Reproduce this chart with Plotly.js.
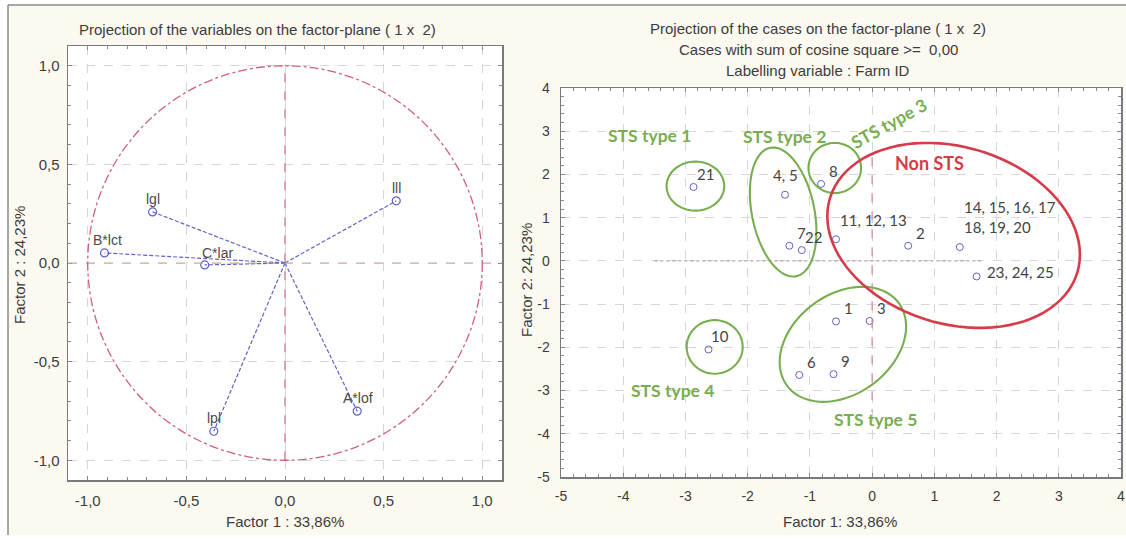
<!DOCTYPE html>
<html><head><meta charset="utf-8">
<script src="https://cdn.plot.ly/plotly-3.0.1.min.js"></script>
<style>html,body{margin:0;padding:0;background:#fff}#chart{width:1126px;height:539px}</style>
</head><body><div id="chart"></div>
<script>
// ---- Left panel: projection of the variables ----
const varNames = ['lll', 'lgl', 'B*lct', 'C*lar', 'lpl', 'A*lof'];
const varF1 = [0.564, -0.671, -0.915, -0.407, -0.361, 0.366];
const varF2 = [0.315, 0.259, 0.051, -0.010, -0.853, -0.751];
const circleRadius = 1;
const leftTicks = [-1, -0.5, 0, 0.5, 1];

// ---- Right panel: projection of the cases ----
const caseLabels = ['21', '4, 5', '8', '7', '22', '11, 12, 13', '2', '14, 15, 16, 17<br>18, 19, 20', '23, 24, 25', '1', '3', '10', '6', '9'];
const caseF1 = [-2.87, -1.40, -0.82, -1.33, -1.13, -0.58, 0.58, 1.41, 1.68, -0.58, -0.04, -2.63, -1.17, -0.62];
const caseF2 = [1.71, 1.53, 1.78, 0.35, 0.25, 0.50, 0.35, 0.32, -0.36, -1.40, -1.39, -2.05, -2.64, -2.62];
const rightTicks = [-5, -4, -3, -2, -1, 0, 1, 2, 3, 4];

// ---- Groups (ellipses) ----
const groupNames = ['STS type 1', 'STS type 2', 'STS type 3', 'STS type 4', 'STS type 5', 'Non STS'];
const groupLabelX = [-3.57, -1.41, 0.27, -3.21, 0.05, 0.93];
const groupLabelY = [2.89, 2.88, 3.19, -3.01, -3.66, 2.26];
const groupCx = [-2.84, -1.43, -0.60, -2.53, -0.47, 1.31];
const groupCy = [1.73, 1.13, 2.15, -1.99, -1.93, 0.59];
const groupRx = [0.463, 0.535, 0.423, 0.45, 1.016, 2.03];
const groupRy = [0.567, 1.493, 0.579, 0.62, 1.331, 2.14];
const groupPhase = [90, 107.5, 90, 90, 72, 102];

// ---- styles ----
const GREEN = '#78ae50', RED = '#d63b49', BLUE = '#6262c8';
const TXT = '#3c3c3c';
const AX = '#7a7a7a';
const ARIAL = 'Liberation Sans, Arial, sans-serif';
const CAL = 'Lato, Open Sans, sans-serif';

const fmt = v => String(v);
const fmt1 = v => v.toFixed(1).replace('.', ',');

// vector segments from origin
const segX = [], segY = [];
varF1.forEach((x, i) => { segX.push(0, x, null); segY.push(0, varF2[i], null); });

const traces = [
  { x: segX, y: segY, xaxis: 'x', yaxis: 'y', mode: 'lines', type: 'scatter',
    line: { color: BLUE, width: 1.2, dash: '4px,2px' }, hoverinfo: 'skip', showlegend: false },
  { x: varF1, y: varF2, xaxis: 'x', yaxis: 'y', mode: 'markers', type: 'scatter',
    marker: { symbol: 'circle-open', size: 8, color: BLUE, line: { width: 1.2 } }, showlegend: false },
  { x: caseF1, y: caseF2, xaxis: 'x2', yaxis: 'y2', mode: 'markers', type: 'scatter',
    marker: { symbol: 'circle-open', size: 7, color: BLUE, line: { width: 1 } }, showlegend: false },
  { x: [null], y: [null], xaxis: 'x3', yaxis: 'y3', type: 'scatter', mode: 'markers', showlegend: false },
  { x: [null], y: [null], xaxis: 'x4', yaxis: 'y4', type: 'scatter', mode: 'markers', showlegend: false }
];

function ellipsePath(cx, cy, rx, ry, phDeg) {
  const ph = phDeg * Math.PI / 180;
  let s = '';
  for (let i = 0; i <= 90; i++) {
    const t = 2 * Math.PI * i / 90;
    const x = cx + rx * Math.cos(t);
    const y = cy + ry * Math.cos(t - ph);
    s += (i ? 'L' : 'M') + x.toFixed(4) + ',' + y.toFixed(4);
  }
  return s + 'Z';
}

const shapes = [
  { type: 'rect', xref: 'paper', yref: 'paper', x0: 0, x1: 8 / 1126, y0: 0, y1: 1, fillcolor: '#ffffff', line: { width: 0 }, layer: 'below' },
  { type: 'rect', xref: 'paper', yref: 'paper', x0: 0, x1: 1, y0: 0, y1: 4 / 539, fillcolor: '#ffffff', line: { width: 0 }, layer: 'below' },
  { type: 'rect', xref: 'paper', yref: 'paper', x0: 0, x1: 1, y0: 1 - 5 / 539, y1: 1, fillcolor: '#ffffff', line: { width: 0 }, layer: 'below' },
  { type: 'line', xref: 'paper', yref: 'paper', x0: 8 / 1126, x1: 1, y0: 1 - 5 / 539, y1: 1 - 5 / 539, line: { color: '#8a8a8a', width: 1.5 } },
  { type: 'line', xref: 'paper', yref: 'paper', x0: 8 / 1126, x1: 8 / 1126, y0: 4 / 539, y1: 1 - 5 / 539, line: { color: '#8a8a8a', width: 1.5 } },
  { type: 'line', xref: 'x', yref: 'y', x0: -1.1, x1: 1.1, y0: 0, y1: 0, line: { color: '#caa898', width: 1.2, dash: 'dash' } },
  { type: 'line', xref: 'x', yref: 'y', x0: 0, x1: 0, y0: -circleRadius, y1: circleRadius, line: { color: '#c8667c', width: 1.2, dash: 'dash' } },
  { type: 'circle', xref: 'x', yref: 'y', x0: -circleRadius, x1: circleRadius, y0: -circleRadius, y1: circleRadius,
    line: { color: '#d0607a', width: 1.3, dash: 'dashdot' } },
  { type: 'line', xref: 'x2', yref: 'y2', x0: -3.5, x1: 1.75, y0: 0, y1: 0, line: { color: '#b8a4a4', width: 1.2, dash: 'dot' } },
  { type: 'line', xref: 'x2', yref: 'y2', x0: 0, x1: 0, y0: 2.4, y1: -3.5, line: { color: '#d08898', width: 1.2, dash: 'dash' } }
];
groupNames.forEach((g, i) => {
  shapes.push({ type: 'path', xref: 'x2', yref: 'y2',
    path: ellipsePath(groupCx[i], groupCy[i], groupRx[i], groupRy[i], groupPhase[i]),
    line: { color: g === 'Non STS' ? RED : GREEN, width: g === 'Non STS' ? 2.6 : 2.1 } });
});

const annotations = [];
const TF = { family: ARIAL, size: 15, color: TXT };
annotations.push({ xref: 'paper', yref: 'paper', x: 257 / 1126, y: 1 - 29 / 539, text: 'Projection of the variables on the factor-plane ( 1 x  2)',
  showarrow: false, font: TF, xanchor: 'center', yanchor: 'middle' });
['Projection of the cases on the factor-plane ( 1 x  2)', 'Cases with sum of cosine square >=  0,00', 'Labelling variable : Farm ID']
  .forEach((t, i) => annotations.push({ xref: 'paper', yref: 'paper', x: 818 / 1126, y: 1 - (28 + 21.5 * i) / 539, text: t,
    showarrow: false, font: TF, xanchor: 'center', yanchor: 'middle' }));
annotations.push({ xref: 'paper', yref: 'paper', x: 285 / 1126, y: 1 - 521 / 539, text: 'Factor 1 : 33,86%', showarrow: false,
  font: TF, xanchor: 'center', yanchor: 'middle' });
annotations.push({ xref: 'paper', yref: 'paper', x: 19 / 1126, y: 1 - 265 / 539, text: 'Factor 2 : 24,23%', showarrow: false, textangle: -90,
  font: TF, xanchor: 'center', yanchor: 'middle' });
annotations.push({ xref: 'paper', yref: 'paper', x: 840 / 1126, y: 1 - 521 / 539, text: 'Factor 1: 33,86%', showarrow: false,
  font: TF, xanchor: 'center', yanchor: 'middle' });
annotations.push({ xref: 'paper', yref: 'paper', x: 526 / 1126, y: 1 - 280 / 539, text: 'Factor 2: 24,23%', showarrow: false, textangle: -90,
  font: TF, xanchor: 'center', yanchor: 'middle' });

const varShift = { 'lll': [0, 13], 'lgl': [0, 13], 'B*lct': [3, 13], 'C*lar': [13, 12], 'lpl': [0, 13], 'A*lof': [1, 13] };
varNames.forEach((n, i) => annotations.push({ xref: 'x', yref: 'y', x: varF1[i], y: varF2[i], text: n, showarrow: false,
  xshift: varShift[n][0], yshift: varShift[n][1], font: { family: ARIAL, size: 14, color: '#4a4a4a' } }));

const caseStyle = {
  '4, 5': { dx: 0, dy: 20, anchor: 'center' },
  '11, 12, 13': { dx: 2, dy: 19, anchor: 'left' },
  '14, 15, 16, 17<br>18, 19, 20': { dx: 2, dy: 30, anchor: 'left' },
  '23, 24, 25': { dx: 8, dy: 4, anchor: 'left' }
};
caseLabels.forEach((t, i) => {
  const s = caseStyle[t] || { dx: 12, dy: 13, anchor: 'center' };
  annotations.push({ xref: 'x2', yref: 'y2', x: caseF1[i], y: caseF2[i], text: t, showarrow: false,
    xshift: s.dx, yshift: s.dy, xanchor: s.anchor, align: 'left',
    font: { family: CAL, size: 15, color: '#444444' } });
});
groupNames.forEach((g, i) => annotations.push({ xref: 'x2', yref: 'y2', x: groupLabelX[i], y: groupLabelY[i], text: '<b>' + g + '</b>',
  showarrow: false, textangle: g === 'STS type 3' ? -29 : 0,
  font: { family: CAL, size: g === 'Non STS' ? 18 : 17.5, color: g === 'Non STS' ? RED : GREEN } }));

const axBase = {
  showline: true, mirror: 'ticks', linecolor: AX, linewidth: 1.5,
  ticks: 'inside', ticklen: 4, tickcolor: AX, tickwidth: 1,
  showgrid: true, gridcolor: '#d6d6d6', griddash: 'dash', gridwidth: 1,
  zeroline: false, fixedrange: true,
  tickfont: { family: ARIAL, size: 15, color: TXT }
};
const minorBase = {
  showline: true, mirror: 'ticks', linecolor: AX, linewidth: 1.5,
  ticks: 'inside', ticklen: 3, tickcolor: '#8a8a8a', tickwidth: 1,
  showgrid: false, zeroline: false, showticklabels: false, fixedrange: true, tickmode: 'linear'
};

const layout = {
  width: 1126, height: 539,
  margin: { l: 0, r: 0, t: 0, b: 0 },
  paper_bgcolor: '#fcf9f0', plot_bgcolor: '#ffffff',
  showlegend: false,
  xaxis: Object.assign({}, axBase, { domain: [68 / 1126, 502 / 1126], anchor: 'y', range: [-1.1, 1.1],
    tickmode: 'array', tickvals: leftTicks, ticktext: leftTicks.map(fmt1), ticklabelstandoff: 6 }),
  yaxis: Object.assign({}, axBase, { domain: [1 - 480 / 539, 1 - 46 / 539], anchor: 'x', range: [-1.1, 1.1],
    tickmode: 'array', tickvals: leftTicks, ticktext: leftTicks.map(fmt1), ticklabelstandoff: 4 }),
  xaxis2: Object.assign({}, axBase, { domain: [561 / 1126, 1121 / 1126], anchor: 'y2', range: [-5, 4],
    tickmode: 'array', tickvals: rightTicks, ticktext: rightTicks.map(fmt), ticklabelstandoff: 6,
    tickfont: { family: ARIAL, size: 14, color: TXT } }),
  yaxis2: Object.assign({}, axBase, { domain: [1 - 477 / 539, 1 - 88 / 539], anchor: 'x2', range: [-5, 4],
    tickmode: 'array', tickvals: rightTicks, ticktext: rightTicks.map(fmt), ticklabelstandoff: 7,
    tickfont: { family: ARIAL, size: 14, color: TXT } }),
  xaxis3: Object.assign({}, minorBase, { overlaying: 'x', anchor: 'y3', range: [-1.1, 1.1], tick0: 0, dtick: 0.1 }),
  yaxis3: Object.assign({}, minorBase, { overlaying: 'y', anchor: 'x3', range: [-1.1, 1.1], tick0: 0, dtick: 0.1 }),
  xaxis4: Object.assign({}, minorBase, { overlaying: 'x2', anchor: 'y4', range: [-5, 4], tick0: 0, dtick: 0.2 }),
  yaxis4: Object.assign({}, minorBase, { overlaying: 'y2', anchor: 'x4', range: [-5, 4], tick0: 0, dtick: 0.2 }),
  shapes: shapes,
  annotations: annotations
};

Plotly.newPlot('chart', traces, layout, { displayModeBar: false, staticPlot: true });
</script>
</body></html>
